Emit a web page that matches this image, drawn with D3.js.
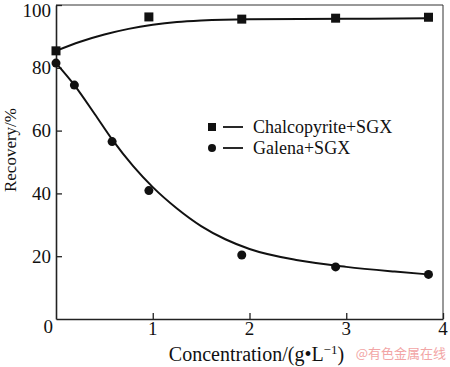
<!DOCTYPE html>
<html>
<head>
<meta charset="utf-8">
<script src="https://cdn.jsdelivr.net/npm/d3@7"></script>
<style>
  body { margin: 0; background: #fff; }
  svg { display: block; }
</style>
</head>
<body>
<script>
// measured points
const chalcoX = [0, 0.96, 1.92, 2.89, 3.85];
const chalcoY = [85.4, 96.2, 95.5, 95.8, 96.1];
const galenaX = [0, 0.19, 0.58, 0.96, 1.92, 2.89, 3.85];
const galenaY = [81.5, 74.5, 56.5, 40.9, 20.4, 16.6, 14.2];

// fitted curves
const chalcoFitX = [0, 0.25, 0.5, 0.75, 1.0, 1.25, 1.5, 2.0, 3.0, 3.85];
const chalcoFitY = [85.4, 88.3, 90.6, 92.4, 93.7, 94.6, 95.1, 95.5, 95.6, 95.8];
const galenaFitX = [0, 0.19, 0.4, 0.58, 0.8, 1.0, 1.25, 1.5, 1.75, 2.0, 2.5, 3.0, 3.5, 3.85];
const galenaFitY = [81.5, 74.5, 65.3, 57.2, 48.6, 42.0, 35.2, 29.6, 25.4, 22.3, 18.7, 16.6, 15.1, 14.2];

const xTicks = [1, 2, 3, 4];
const yTicks = [20, 40, 60, 80, 100];
const legendNames = ['Chalcopyrite+SGX', 'Galena+SGX'];

const serif = '"Liberation Serif", "Times New Roman", serif';

const svg = d3.select('body').append('svg')
    .attr('width', 450)
    .attr('height', 367)
    .style('font-family', serif);

const margin = { top: 5, right: 7, bottom: 48, left: 56 };
const width = 450 - margin.left - margin.right;
const height = 367 - margin.top - margin.bottom;

const xScale = d3.scaleLinear().domain([0, 4]).range([0, width]);
const yScale = d3.scaleLinear().domain([0, 100]).range([height, 0]);

const g = svg.append('g')
    .attr('transform', `translate(${margin.left}, ${margin.top})`);

// frame (top + right)
g.append('path')
    .attr('d', `M0,0H${width}V${height}`)
    .attr('fill', 'none')
    .attr('stroke', '#333')
    .attr('stroke-width', 1);

// axes with inward ticks
const xAxis = g.append('g')
    .attr('transform', `translate(0,${height})`)
    .call(d3.axisTop(xScale).tickValues(xTicks).tickSize(6).tickSizeOuter(0).tickFormat(''));
const yAxis = g.append('g')
    .call(d3.axisRight(yScale).tickValues(yTicks).tickSize(6).tickSizeOuter(0).tickFormat(''));

[xAxis, yAxis].forEach(a => {
    a.select('.domain').attr('stroke', '#222').attr('stroke-width', 1.6);
    a.selectAll('.tick line').attr('stroke', '#222').attr('stroke-width', 1.3);
});

// tick labels
g.selectAll('.xlab')
    .data(xTicks)
    .enter().append('text')
    .attr('x', d => xScale(d))
    .attr('y', height + 16)
    .attr('text-anchor', 'middle')
    .style('font-family', serif)
    .style('font-size', '19px')
    .attr('fill', '#111')
    .text(d => d);

// top label pushed down a little so it stays inside the page
g.selectAll('.ylab')
    .data(yTicks)
    .enter().append('text')
    .attr('x', -5)
    .attr('y', d => Math.max(yScale(d) + 6.5, 12))
    .attr('text-anchor', 'end')
    .style('font-family', serif)
    .style('font-size', '19px')
    .attr('fill', '#111')
    .text(d => d);

g.append('text')
    .attr('x', -3)
    .attr('y', height + 14)
    .attr('text-anchor', 'end')
    .style('font-family', serif)
    .style('font-size', '19px')
    .attr('fill', '#111')
    .text('0');

// axis titles
const xt = g.append('text')
    .attr('x', width / 2 + 7)
    .attr('y', height + 42)
    .attr('text-anchor', 'middle')
    .style('font-family', serif)
    .style('font-size', '20px')
    .attr('fill', '#111');
xt.append('tspan').text('Concentration/(g\u2022L');
xt.append('tspan').attr('dy', -7).style('font-size', '13px').text('\u22121');
xt.append('tspan').attr('dy', 7).text(')');

svg.append('text')
    .attr('transform', 'translate(15.5, 150) rotate(-90)')
    .attr('text-anchor', 'middle')
    .style('font-family', serif)
    .style('font-size', '17px')
    .attr('fill', '#111')
    .text('Recovery/%');

// curves
const line = d3.line()
    .x(d => xScale(d[0]))
    .y(d => yScale(d[1]))
    .curve(d3.curveMonotoneX);

g.append('path')
    .datum(d3.zip(chalcoFitX, chalcoFitY))
    .attr('d', line)
    .attr('fill', 'none')
    .attr('stroke', '#111')
    .attr('stroke-width', 2);

g.append('path')
    .datum(d3.zip(galenaFitX, galenaFitY))
    .attr('d', line)
    .attr('fill', 'none')
    .attr('stroke', '#111')
    .attr('stroke-width', 2);

// markers
g.selectAll('.sq')
    .data(d3.zip(chalcoX, chalcoY))
    .enter().append('rect')
    .attr('x', d => xScale(d[0]) - 4.5)
    .attr('y', d => yScale(d[1]) - 4.5)
    .attr('width', 9)
    .attr('height', 9)
    .attr('fill', '#111');

g.selectAll('.dot')
    .data(d3.zip(galenaX, galenaY))
    .enter().append('circle')
    .attr('cx', d => xScale(d[0]))
    .attr('cy', d => yScale(d[1]))
    .attr('r', 4.5)
    .attr('fill', '#111');

// legend
const legend = svg.append('g').attr('transform', 'translate(212, 127)');
legendNames.forEach((name, i) => {
    const row = legend.append('g').attr('transform', `translate(0, ${i * 21})`);
    if (i === 0) {
        row.append('rect').attr('x', -4).attr('y', -4).attr('width', 8).attr('height', 8).attr('fill', '#111');
    } else {
        row.append('circle').attr('r', 4).attr('fill', '#111');
    }
    row.append('line')
        .attr('x1', 11).attr('x2', 31)
        .attr('stroke', '#111').attr('stroke-width', 1.8);
    row.append('text')
        .attr('x', 41)
        .attr('y', 6)
        .style('font-family', serif)
        .style('font-size', '18px')
        .attr('fill', '#111')
        .text(name);
});

// watermark
svg.append('text')
    .attr('x', 446)
    .attr('y', 358)
    .attr('text-anchor', 'end')
    .style('font-family', '"Noto Sans CJK SC", sans-serif')
    .style('font-size', '13px')
    .attr('fill', '#f2a5a5')
    .text('@有色金属在线');
</script>
</body>
</html>
